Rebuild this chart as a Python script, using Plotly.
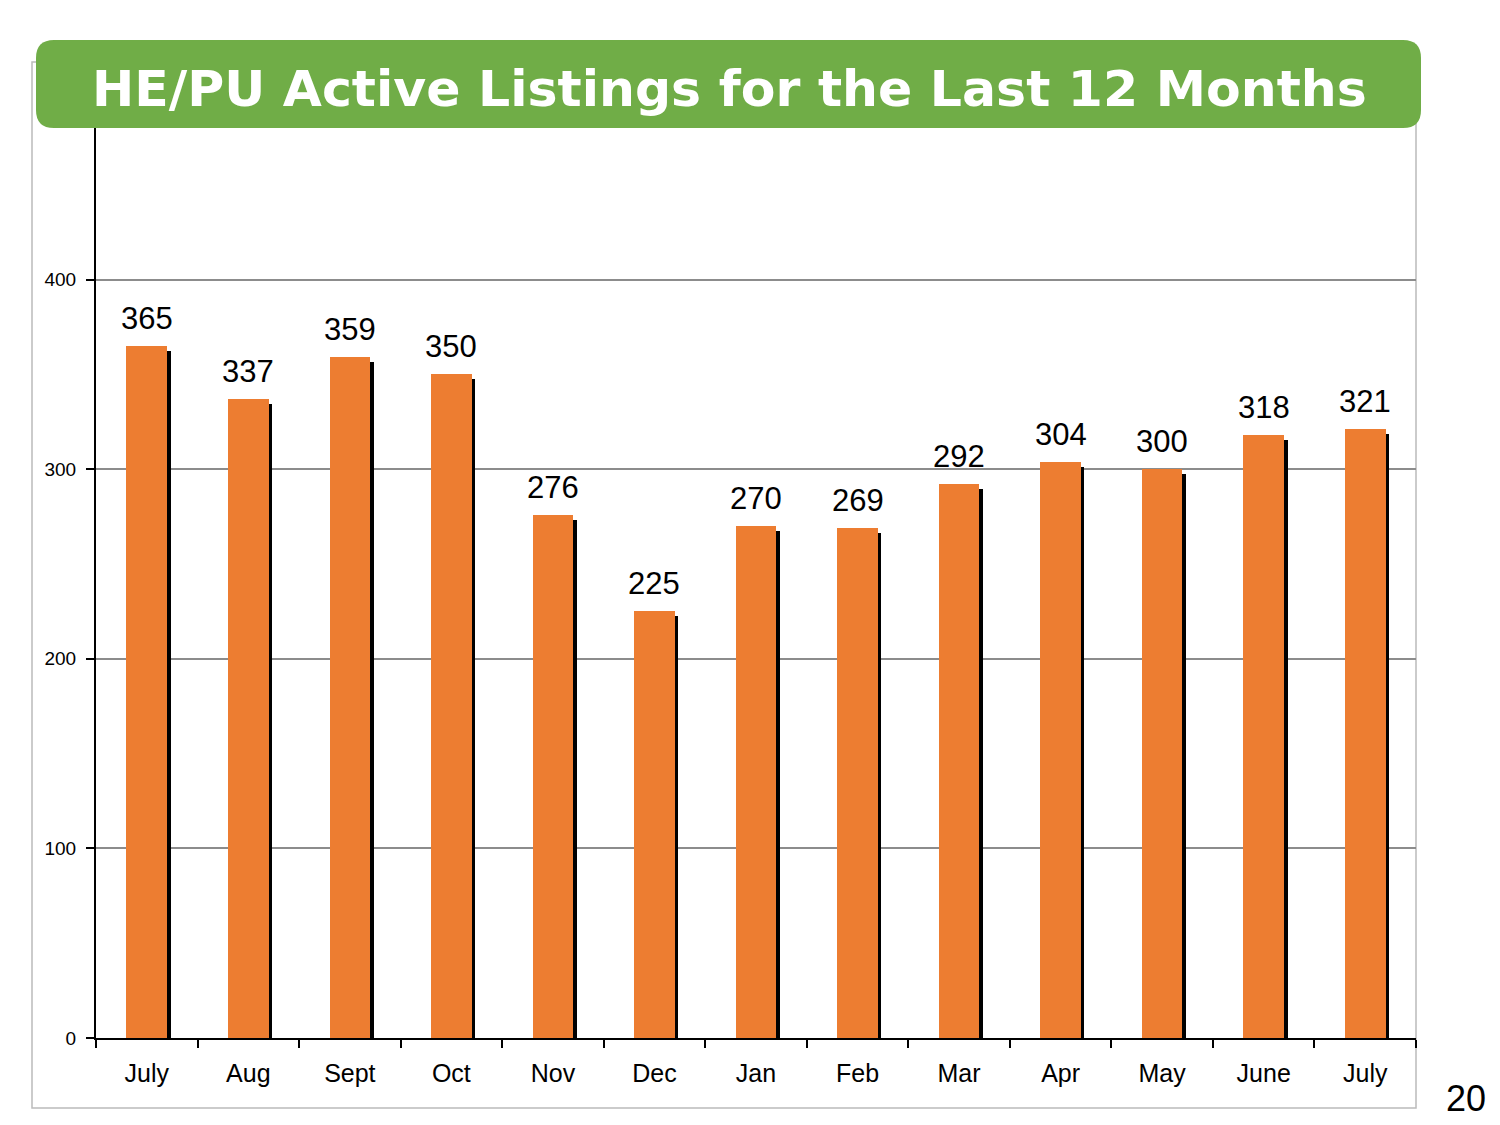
import plotly.graph_objects as go

# chart data
months = ["July", "Aug", "Sept", "Oct", "Nov", "Dec", "Jan", "Feb", "Mar", "Apr", "May", "June", "July"]
listings = [365, 337, 359, 350, 276, 225, 270, 269, 292, 304, 300, 318, 321]
ytick_vals = [0, 100, 200, 300, 400]

# page body adds 8px margin, so the figure is shrunk by that much
OFF = 8
W, H = 1500 - OFF, 1125 - OFF
L, R, T, B = 96 - OFF, 84, 128 - OFF, 87
PW, PH = W - L - R, H - T - B


def px(x):
    return (x - OFF - L) / PW


def py(y):
    return (H - B - (y - OFF)) / PH


idx = list(range(len(months)))
fig = go.Figure()

# drop shadow behind each bar
fig.add_trace(go.Bar(x=idx, y=[v - 2.6 for v in listings], width=0.4, offset=-0.2 + 0.035,
                     marker=dict(color="black", line=dict(width=0)), hoverinfo="skip", showlegend=False))
fig.add_trace(go.Bar(x=idx, y=listings, width=0.4, offset=-0.2,
                     marker=dict(color="#ED7D31", line=dict(width=0)), showlegend=False))

for i, v in zip(idx, listings):
    fig.add_annotation(x=i, y=v, text=str(v), showarrow=False, yanchor="bottom", yshift=8,
                       font=dict(family="Liberation Sans", size=31, color="black"))


def rounded_rect(x0, y0, x1, y1, r):
    # pixel coords -> paper path with round corners
    ax, ay = r / PW, r / PH
    a, b, c, d = px(x0), py(y0), px(x1), py(y1)
    return (f"M {a+ax},{b} L {c-ax},{b} Q {c},{b} {c},{b-ay} L {c},{d+ay} Q {c},{d} {c-ax},{d} "
            f"L {a+ax},{d} Q {a},{d} {a},{d+ay} L {a},{b-ay} Q {a},{b} {a+ax},{b} Z")


# outer frame
fig.add_shape(type="rect", xref="paper", yref="paper", x0=px(32), y0=py(62), x1=px(1416), y1=py(1108),
              line=dict(color="#BBBBBB", width=1.5), layer="below")
# green title banner
fig.add_shape(type="path", xref="paper", yref="paper", path=rounded_rect(36, 40, 1421, 128, 18),
              fillcolor="#70AD47", line=dict(width=0))
fig.add_annotation(xref="paper", yref="paper", x=px(729), y=py(89), text="<b>HE/PU Active Listings for the Last 12 Months</b>",
                   showarrow=False, xanchor="center", yanchor="middle",
                   font=dict(family="DejaVu Sans", size=50.5, color="white"))
# page number
fig.add_annotation(xref="paper", yref="paper", x=px(1466), y=py(1076), text="20", showarrow=False,
                   xanchor="center", yanchor="top", font=dict(family="Liberation Sans", size=36, color="black"))

fig.update_layout(
    width=W, height=H,
    margin=dict(l=L, r=R, t=T, b=B),
    paper_bgcolor="white", plot_bgcolor="white",
    barmode="overlay", bargap=0,
    xaxis=dict(range=[-0.5, 12.5], tickmode="array", tickvals=idx, ticktext=months, ticks="",
               showline=True, linecolor="black", linewidth=2, showgrid=False, zeroline=False,
               tickfont=dict(family="Liberation Sans", size=25, color="black"), ticklabelstandoff=12,
               minor=dict(tickmode="linear", tick0=-0.5, dtick=1, ticks="outside", ticklen=8,
                          tickwidth=2, tickcolor="black", showgrid=False)),
    yaxis=dict(range=[0, 480], tickmode="array", tickvals=ytick_vals, ticks="outside", ticklen=8,
               tickwidth=2, tickcolor="black", showline=True, linecolor="black", linewidth=2,
               showgrid=True, gridcolor="#8C8C8C", gridwidth=1.5, zeroline=False,
               tickfont=dict(family="Liberation Sans", size=19, color="black"), ticklabelstandoff=6),
)

fig.write_html("out.html")
